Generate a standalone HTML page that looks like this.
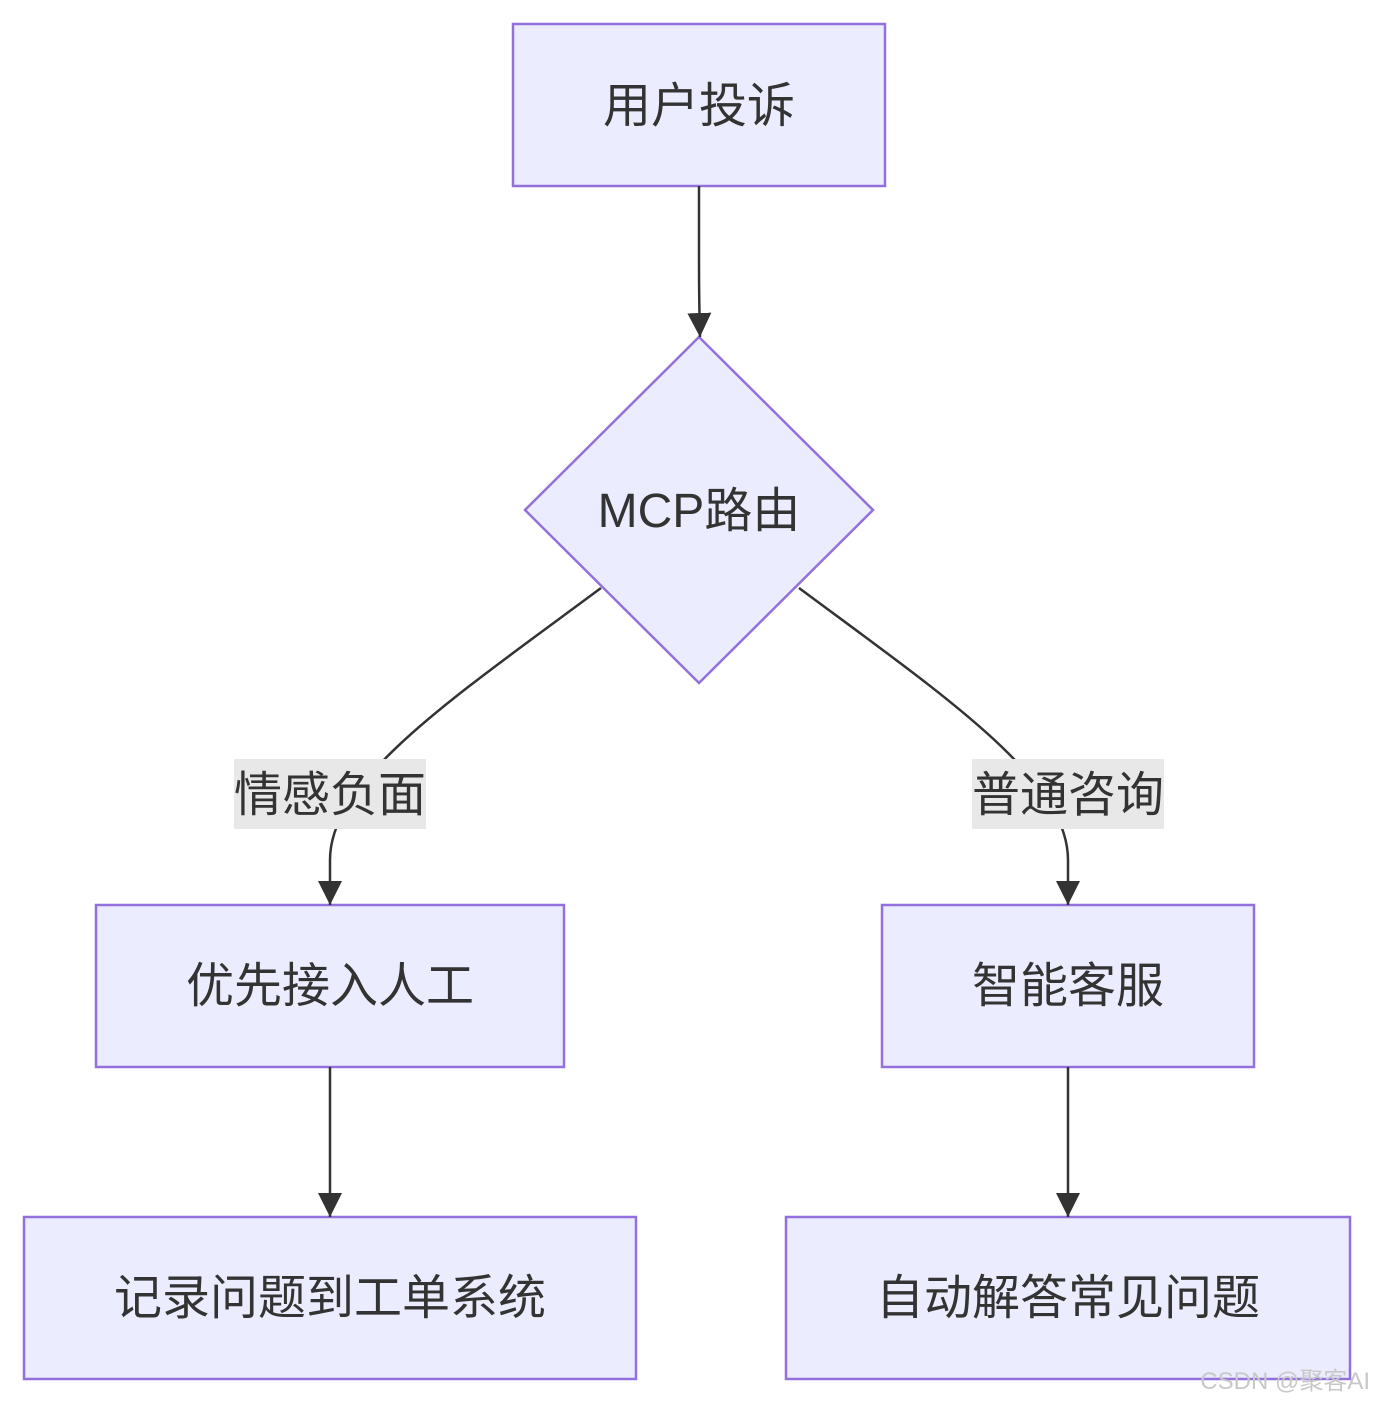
<!DOCTYPE html>
<html><head><meta charset="utf-8"><style>
html,body{margin:0;padding:0;background:#fff;}
svg{display:block;}
text{font-family:"Liberation Sans","Noto Sans CJK SC",sans-serif;fill:#333;}
</style></head><body>
<svg width="1374" height="1403" viewBox="0 0 1374 1403" xmlns="http://www.w3.org/2000/svg">
<defs><marker id="a" viewBox="0 0 10 10" refX="9" refY="5" markerWidth="8" markerHeight="8" markerUnits="userSpaceOnUse" orient="auto"><path d="M0,0L10,5L0,10z" fill="#333"/></marker>
<marker id="b" viewBox="0 0 10 10" refX="10" refY="5" markerWidth="24" markerHeight="24" markerUnits="userSpaceOnUse" orient="auto"><path d="M0,0L10,5L0,10z" fill="#333"/></marker></defs>
<g fill="#ECECFF" stroke="#9370DB" stroke-width="2.5">
<rect x="513" y="24" width="372" height="162"/>
<polygon points="699,337 873,510 699,683 525,510"/>
<rect x="96" y="905" width="468" height="162"/>
<rect x="882" y="905" width="372" height="162"/>
<rect x="24" y="1217" width="612" height="162"/>
<rect x="786" y="1217" width="564" height="162"/>
</g>
<g stroke="#333" stroke-width="2.5" fill="none">
<path d="M699,186 L699,260 Q699,300 700,337" marker-end="url(#b)"/>
<path d="M601,588 C450,700 330,780 330,860 L330,905" marker-end="url(#b)"/>
<path d="M799,588 C950,700 1068,780 1068,860 L1068,905" marker-end="url(#b)"/>
<path d="M330,1067 L330,1217" marker-end="url(#b)"/>
<path d="M1068,1067 L1068,1217" marker-end="url(#b)"/>
</g>
<rect x="234" y="759" width="192" height="70" fill="#e8e8e8"/>
<rect x="972" y="759" width="192" height="70" fill="#e8e8e8"/>
<g font-size="48" text-anchor="middle">
<text x="699" y="122">用户投诉</text>
<text x="699" y="527">MCP路由</text>
<text x="330" y="811">情感负面</text>
<text x="1068" y="811">普通咨询</text>
<text x="330" y="1002">优先接入人工</text>
<text x="1068" y="1002">智能客服</text>
<text x="330" y="1314">记录问题到工单系统</text>
<text x="1068" y="1314">自动解答常见问题</text>
</g>
<text x="1370" y="1389" font-size="24" text-anchor="end" style="fill:#c8c8c8">CSDN @聚客AI</text>
</svg>
</body></html>
